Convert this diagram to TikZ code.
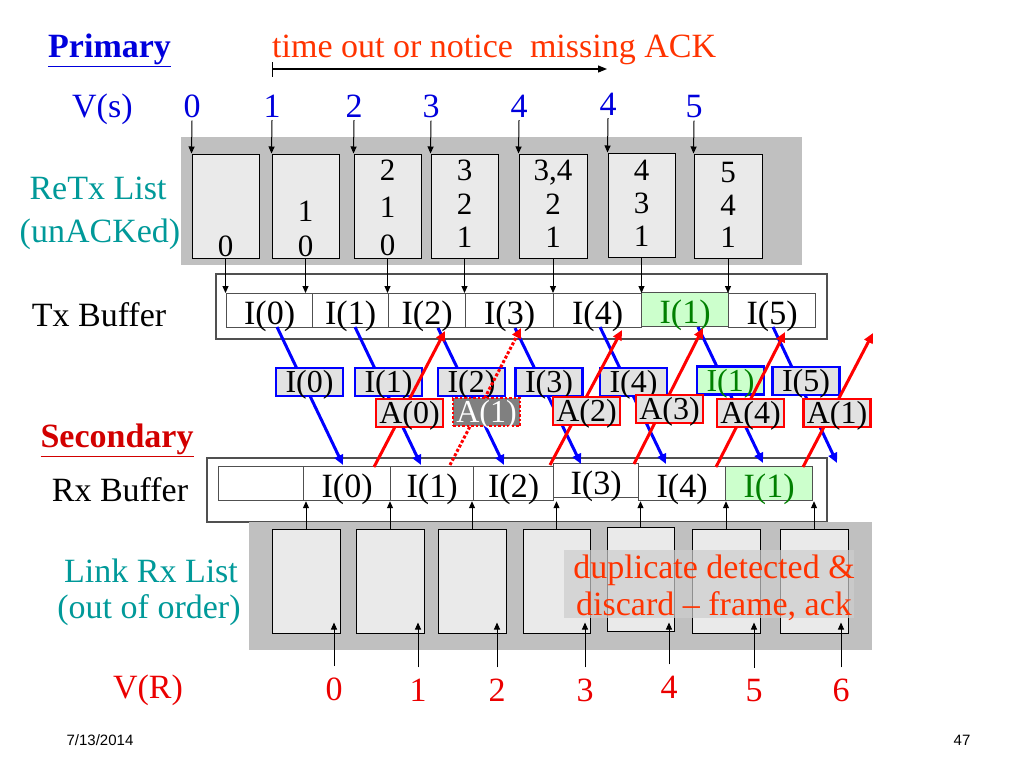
\documentclass[tikz,border=0pt]{standalone}
\usepackage{fontspec}
\setmainfont{Liberation Serif}
\newfontfamily\datefont{Liberation Sans}
\usetikzlibrary{arrows.meta}
\definecolor{bgcol}{RGB}{192,192,192}
\definecolor{boxcol}{RGB}{234,234,234}
\definecolor{vblue}{RGB}{0,0,220}
\definecolor{teal2}{RGB}{0,153,153}
\definecolor{ored}{RGB}{255,51,0}
\definecolor{vred}{RGB}{235,0,0}
\definecolor{sred}{RGB}{210,0,0}
\definecolor{gfill}{RGB}{204,255,204}
\definecolor{gtext}{RGB}{0,128,0}
\definecolor{lblue}{RGB}{0,0,255}
\definecolor{lred}{RGB}{255,0,0}
\definecolor{midfill}{RGB}{226,226,226}
\definecolor{agrey}{RGB}{128,128,128}
\definecolor{cellline}{RGB}{80,80,80}
\definecolor{dupfill}{RGB}{205,205,205}
\tikzset{
  big/.style={font=\fontsize{34}{38}\selectfont, inner sep=0pt},
  num/.style={font=\fontsize{31}{34}\selectfont, inner sep=0pt, anchor=base},
  lbox/.style={draw=black, fill=boxcol, line width=1pt, inner sep=0pt, minimum width=67pt, minimum height=104pt},
  cell/.style={draw=cellline, line width=1.2pt, inner sep=0pt, text height=29pt, text depth=1pt, minimum height=34pt, anchor=north west, font=\fontsize{34}{38}\selectfont},
  gcell/.style={cell, fill=gfill, text=gtext},
  outer/.style={draw=cellline, line width=1.2pt},
  iframe/.style={draw=lblue, line width=2.5pt, fill=midfill, inner sep=0pt, minimum width=67pt, text height=24pt, text depth=3pt, minimum height=28pt, font=\fontsize{32}{36}\selectfont},
  aframe/.style={iframe, draw=lred},
  sarr/.style={-{Triangle[length=7pt,width=6pt]}, line width=1pt},
  barr/.style={-{Triangle[length=10pt,width=9pt]}, line width=3pt, draw=lblue},
  rarr/.style={barr, draw=lred},
}
\begin{document}
\begin{tikzpicture}[x=1pt,y=-1pt]
\useasboundingbox (0,0) rectangle (1024,768);
% ---------- headings ----------
\node[big, anchor=base west, text=vblue, font=\fontsize{34}{38}\selectfont\bfseries] (prim) at (48,57) {\underline{Primary}};
\node[big, anchor=base west, text=ored] (tout) at (272,57) {time out or notice\ \ missing ACK};
\coordinate (t1) at (272,69);
\coordinate (t2) at (607,69);
\draw[{Bar[width=15pt]}-{Triangle[length=9pt,width=7pt]}, line width=1.2pt] (t1) -- (t2);
\node[big, anchor=base west, text=vblue] (vs) at (72,117) {V(s)};
\foreach \n/\x/\t/\b in {0/192/0/117, 1/272/1/117, 2/354/2/117, 3/431/3/117, 4/519/4/117, 5/608/4/115, 6/694/5/117}
  \node[big, anchor=base, text=vblue] (vs\n) at (\x,\b) {\t};
% ---------- ReTx list ----------
\fill[bgcol] (181,137) rectangle (802,265);
\node[big, text=teal2] (retx) at (98,188) {ReTx List};
\node[big, text=teal2] (unack) at (100,234) {(unACKed)};
\node[lbox] (b0) at (225.5,206) {};
\node[lbox] (b1) at (305.5,206) {};
\node[lbox] (b2) at (387.5,206) {};
\node[lbox] (b3) at (464.5,206) {};
\node[lbox, minimum width=68pt] (b4) at (553,206) {};
\node[lbox] (b5) at (641.5,205) {};
\node[lbox, minimum width=68pt] (b6) at (728,206) {};
\foreach \n in {0,...,6}
  \draw[sarr] ([yshift=-3pt]vs\n.south) -- (b\n.north west);
% contents
\node[num] at (225.5,256) {0};
\node[num] at (305.5,221) {1};
\node[num] at (305.5,256) {0};
\node[num] at (387.5,180) {2};
\node[num] at (387.5,217) {1};
\node[num] at (387.5,255) {0};
\node[num] at (464.5,180) {3};
\node[num] at (464.5,214) {2};
\node[num] at (464.5,247) {1};
\node[num] at (553,180) {3,4};
\node[num] at (553,214) {2};
\node[num] at (553,247) {1};
\node[num] at (641.5,180) {4};
\node[num] at (641.5,213) {3};
\node[num] at (641.5,246) {1};
\node[num] at (728,182) {5};
\node[num] at (728,215) {4};
\node[num] at (728,247) {1};
% ---------- Tx buffer ----------
\node[big] (txl) at (99,315) {Tx Buffer};
\draw[outer] (216,274) rectangle (827,339);
\node[cell, minimum width=86pt] (tx0) at (226,293) {I(0)};
\node[cell, minimum width=76pt] (tx1) at (312,293) {I(1)};
\node[cell, minimum width=77pt] (tx2) at (388,293) {I(2)};
\node[cell, minimum width=88pt] (tx3) at (465,293) {I(3)};
\node[cell, minimum width=88pt] (tx4) at (553,293) {I(4)};
\node[gcell, minimum width=87pt] (tx5) at (641,292) {I(1)};
\node[cell, minimum width=87pt] (tx6) at (728,293) {I(5)};
\foreach \n in {0,...,6}
  \draw[sarr] (b\n.south) -- (b\n.south |- tx0.north);
% ---------- Rx buffer ----------
\node[big, text=sred, font=\fontsize{34}{38}\selectfont\bfseries] (sec) at (117,440) {\underline{Secondary}};
\node[big] (rxl) at (120,490) {Rx Buffer};
\draw[outer] (207,458) rectangle (827,522);
\node[cell, minimum width=85pt] (rx0) at (218,466) {};
\node[cell, minimum width=87pt] (rx1) at (303,466) {I(0)};
\node[cell, minimum width=83pt] (rx2) at (390,466) {I(1)};
\node[cell, minimum width=80pt] (rx3) at (473,466) {I(2)};
\node[cell, minimum width=85pt] (rx4) at (553,463) {I(3)};
\node[cell, minimum width=87pt] (rx5) at (638,466) {I(4)};
\node[gcell, minimum width=87pt] (rx6) at (725,466) {I(1)};
% ---------- transmissions ----------
\coordinate (bs0) at (277,327); \coordinate (be0) at (343,465);
\coordinate (bs1) at (355,327); \coordinate (be1) at (421,465);
\coordinate (bs2) at (438,328); \coordinate (be2) at (504,465);
\coordinate (bs3) at (515,328); \coordinate (be3) at (581,464);
\coordinate (bs4) at (600,327); \coordinate (be4) at (666,464);
\coordinate (bs5) at (698,327); \coordinate (be5) at (763,463);
\coordinate (bs6) at (773,327); \coordinate (be6) at (837,463);
\foreach \n in {0,...,6} \draw[barr] (bs\n) -- (be\n);
\node[iframe] (mI0) at (309.5,382) {I(0)};
\node[iframe] (mI1) at (388.5,382) {I(1)};
\node[iframe] (mI2) at (471.5,382) {I(2)};
\node[iframe] (mI3) at (549,382) {I(3)};
\node[iframe] (mI4) at (633.5,382) {I(4)};
\node[iframe, fill=gfill, text=gtext] (mI5) at (730.5,380.5) {I(1)};
\node[iframe] (mI6) at (806,381) {I(5)};
\coordinate (rs0) at (374,467); \coordinate (re0) at (445,331);
\coordinate (rs1) at (450,465); \coordinate (re1) at (521,328);
\coordinate (rs2) at (550,465); \coordinate (re2) at (622,330);
\coordinate (rs3) at (634,464); \coordinate (re3) at (703,328);
\coordinate (rs4) at (716,467); \coordinate (re4) at (785,332);
\coordinate (rs5) at (803,467); \coordinate (re5) at (873,333);
\draw[rarr] (rs0) -- (re0);
\draw[rarr, dotted] (rs1) -- (re1);
\foreach \n in {2,...,5} \draw[rarr] (rs\n) -- (re\n);
\node[aframe] (mA0) at (409.5,413) {A(0)};
\node[aframe, dotted, fill=agrey, text=white] (mA1) at (486.5,412) {A(1)};
\node[aframe] (mA2) at (586.5,411) {A(2)};
\node[aframe] (mA3) at (669.5,409) {A(3)};
\node[aframe] (mA4) at (750.5,413) {A(4)};
\node[aframe] (mA5) at (837,413) {A(1)};
% ---------- Link Rx list ----------
\fill[bgcol] (249,522) rectangle (872,650);
\node[big, text=teal2] (lrx) at (151,571) {Link Rx List};
\node[big, text=teal2] (ooo) at (149,610) {(out of order)};
\node[lbox, minimum width=68pt] (lk0) at (306,581) {};
\node[lbox, minimum width=68pt] (lk1) at (390,581) {};
\node[lbox, minimum width=68pt] (lk2) at (472,581) {};
\node[lbox] (lk3) at (556.5,581) {};
\node[lbox] (lk4) at (640.5,579.5) {};
\node[lbox, minimum width=68pt] (lk5) at (726,581) {};
\node[lbox, minimum width=68pt] (lk6) at (814,581) {};
\foreach \n in {0,...,6}
  \draw[sarr] (lk\n.north) -- (lk\n.north |- rx1.south);
\node[fill=dupfill, fill opacity=0.7, text opacity=1, minimum width=290pt, minimum height=68pt, inner sep=0pt] (dup) at (709,584) {};
\node[big, text=ored, align=center, font=\fontsize{34}{37}\selectfont] (duptxt) at (714,588) {duplicate detected \&\\discard – frame, ack};
% ---------- V(R) ----------
\node[big, text=vred] (vrl) at (148,690) {V(R)};
\foreach \n/\x/\b in {0/334/700, 1/418/701, 2/497/701, 3/585/701, 4/669/698, 5/754/701, 6/841/701}
  \node[big, anchor=base, text=vred] (vr\n) at (\x,\b) {\n};
\foreach \n in {0,...,6}
  \draw[sarr] ([yshift=11pt]vr\n.north) -- ([yshift=11pt]vr\n.north |- lk0.south);
% ---------- footer ----------
\node[inner sep=0pt, font=\datefont\fontsize{15}{18}\selectfont] (date) at (100,740) {7/13/2014};
\node[inner sep=0pt, font=\datefont\fontsize{15}{18}\selectfont] (page) at (962,740) {47};
\end{tikzpicture}
\end{document}
